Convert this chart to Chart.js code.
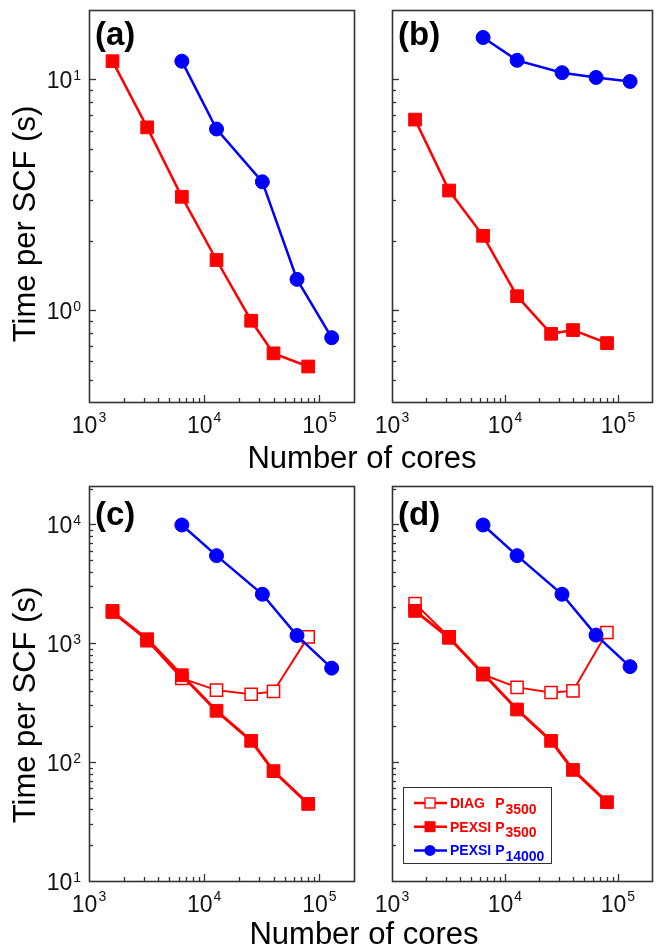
<!DOCTYPE html>
<html><head><meta charset="utf-8">
<script src="https://cdn.jsdelivr.net/npm/chart.js@4.4.1/dist/chart.umd.min.js"></script>
<style>
html,body{margin:0;padding:0;background:#fff;}
#wrap{position:relative;width:662px;height:948px;overflow:hidden;background:#fff;}
canvas{position:absolute;left:0;top:0;}
</style></head><body>
<div id="wrap">
<canvas id="ca" width="662" height="948"></canvas>
<canvas id="cb" width="662" height="948"></canvas>
<canvas id="cc" width="662" height="948"></canvas>
<canvas id="cd" width="662" height="948"></canvas>
</div>
<script>
// ---- data ----
const coresP3500 = [1600, 3200, 6400, 12800, 25600, 40000, 80000];
const coresP14000 = [6400, 12800, 32000, 64000, 128000];
const xTickExponents = [3, 4, 5];
const yTickExponentsTop = [0, 1];
const yTickExponentsBottom = [1, 2, 3, 4];

const aPexsi3500 = [12.0, 6.2, 3.1, 1.65, 0.90, 0.65, 0.57];
const aPexsi14000 = [12.0, 6.1, 3.6, 1.36, 0.76];
const bPexsi3500 = [6.7, 3.3, 2.1, 1.15, 0.79, 0.82, 0.72];
const bPexsi14000 = [15.2, 12.1, 10.7, 10.2, 9.8];
const cDiag3500 = [1870, 1050, 505, 403, 372, 393, 1130];
const cPexsi3500 = [1830, 1080, 538, 270, 151, 84, 44.5];
const cPexsi14000 = [9870, 5450, 2580, 1160, 617];
const dDiag3500 = [2150, 1130, 545, 425, 385, 397, 1230];
const dPexsi3500 = [1870, 1110, 556, 277, 151, 86, 46];
const dPexsi14000 = [9870, 5450, 2580, 1170, 635];

const legendNames = ['DIAG', 'PEXSI', 'PEXSI'];
const legendSubs = ['3500', '3500', '14000'];

const RED = '#ff0000', BLUE = '#0000ff', FRAME = '#333333';
const FONT = '"Liberation Sans", Arial, Helvetica, sans-serif';

function pts(xs, ys) { return xs.map((x, i) => ({ x: x, y: ys[i] })); }

function dsPexsi(ys, lw) {
  return { data: pts(coresP3500, ys), borderColor: RED, backgroundColor: RED,
    pointBackgroundColor: RED, pointBorderColor: RED, pointStyle: 'rect',
    pointRadius: 9, pointBorderWidth: 1, borderWidth: lw, order: 2, tension: 0, clip: false };
}
function dsDiag(ys) {
  return { data: pts(coresP3500, ys), borderColor: RED, backgroundColor: '#fff',
    pointBackgroundColor: '#ffffff', pointBorderColor: RED, pointStyle: 'rect',
    pointRadius: 8.6, pointBorderWidth: 1.5, borderWidth: 2, order: 3, tension: 0, clip: false };
}
function dsBlue(ys) {
  return { data: pts(coresP14000, ys), borderColor: BLUE, backgroundColor: BLUE,
    pointBackgroundColor: BLUE, pointBorderColor: BLUE, pointStyle: 'circle',
    pointRadius: 7, pointBorderWidth: 1, borderWidth: 2.5, order: 1, tension: 0, clip: false };
}

function logTicks(min, max) {
  const out = [];
  for (let e = Math.floor(Math.log10(min)); e <= Math.ceil(Math.log10(max)); e++) {
    for (let k = 1; k <= 9; k++) {
      const v = k * Math.pow(10, e);
      if (v > min * 1.0001 && v < max * 0.9999) out.push({ v: v, major: k === 1 });
    }
  }
  return out;
}

function drawPow(ctx, e, x, yBase, ySup, align) {
  ctx.font = '23px ' + FONT;
  const w1 = ctx.measureText('10').width;
  ctx.font = '14px ' + FONT;
  const w2 = ctx.measureText(String(e)).width;
  const total = w1 + 1 + w2;
  const start = align === 'center' ? x - total / 2 : x - total;
  ctx.textAlign = 'left';
  ctx.textBaseline = 'alphabetic';
  ctx.font = '23px ' + FONT;
  ctx.fillText('10', start, yBase);
  ctx.font = '14px ' + FONT;
  ctx.fillText(String(e), start + w1 + 1, ySup);
}

function makePlugin(p) {
  return {
    id: 'frameTicks',
    afterDraw(chart) {
      const ctx = chart.ctx, a = chart.chartArea;
      const xs = chart.scales.x, ys = chart.scales.y;
      ctx.save();
      ctx.strokeStyle = FRAME;
      ctx.lineWidth = 1.3;
      logTicks(xs.min, xs.max).forEach(t => {
        const px = Math.round(xs.getPixelForValue(t.v)) + 0.5;
        const L = t.major ? 7 : 4;
        ctx.beginPath(); ctx.moveTo(px, a.bottom); ctx.lineTo(px, a.bottom - L); ctx.stroke();
      });
      logTicks(ys.min, ys.max).forEach(t => {
        const py = Math.round(ys.getPixelForValue(t.v)) + 0.5;
        const L = t.major ? 7 : 4;
        ctx.beginPath(); ctx.moveTo(a.left, py); ctx.lineTo(a.left + L, py); ctx.stroke();
      });
      ctx.lineWidth = 1.6;
      ctx.strokeRect(Math.round(a.left) + 0.5, Math.round(a.top) + 0.5,
        Math.round(a.right - a.left), Math.round(a.bottom - a.top));

      ctx.fillStyle = '#111';
      p.xExp.forEach(e => {
        drawPow(ctx, e, xs.getPixelForValue(Math.pow(10, e)), a.bottom + 31, a.bottom + 19.5, 'center');
      });
      if (p.yExp) {
        p.yExp.forEach(e => {
          const py = ys.getPixelForValue(Math.pow(10, e));
          drawPow(ctx, e, a.left - 8, py + 9, py + 1, 'right');
        });
      }
      // panel label
      ctx.fillStyle = '#000';
      ctx.font = 'bold 33px ' + FONT;
      ctx.textAlign = 'left';
      ctx.textBaseline = 'alphabetic';
      ctx.fillText(p.label, a.left + 6, p.labelBase);

      // axis titles
      if (p.xTitle) {
        ctx.font = '31px ' + FONT;
        ctx.textAlign = 'center';
        ctx.fillStyle = '#000';
        ctx.fillText(p.xTitle.text, p.xTitle.x, p.xTitle.y);
      }
      if (p.yTitle) {
        ctx.save();
        ctx.translate(p.yTitle.x, p.yTitle.y);
        ctx.rotate(-Math.PI / 2);
        ctx.font = '31px ' + FONT;
        ctx.textAlign = 'center';
        ctx.fillStyle = '#000';
        ctx.fillText(p.yTitle.text, 0, 0);
        ctx.restore();
      }
      if (p.legend) drawLegend(ctx, p.legend);
      ctx.restore();
    }
  };
}

function drawLegend(ctx, L) {
  ctx.fillStyle = '#fff';
  ctx.fillRect(L.x, L.y, L.w, L.h);
  ctx.strokeStyle = FRAME;
  ctx.lineWidth = 1;
  ctx.strokeRect(L.x + 0.5, L.y + 0.5, L.w, L.h);
  const colors = [RED, RED, BLUE];
  const styles = ['open', 'rect', 'circle'];
  ctx.font = 'bold 14px ' + FONT;
  const pX = L.x + 47 + ctx.measureText('PEXSI ').width;
  for (let i = 0; i < 3; i++) {
    const cy = L.y + 16 + i * 23.7;
    const c = colors[i];
    ctx.strokeStyle = c; ctx.lineWidth = 2.5;
    ctx.beginPath(); ctx.moveTo(L.x + 11, cy); ctx.lineTo(L.x + 44, cy); ctx.stroke();
    const mx = L.x + 27;
    if (styles[i] === 'open') {
      ctx.fillStyle = '#fff'; ctx.fillRect(mx - 5, cy - 5, 10, 10);
      ctx.lineWidth = 1.3; ctx.strokeRect(mx - 5, cy - 5, 10, 10);
    } else if (styles[i] === 'rect') {
      ctx.fillStyle = c; ctx.fillRect(mx - 5.5, cy - 5.5, 11, 11);
    } else {
      ctx.fillStyle = c; ctx.beginPath(); ctx.arc(mx, cy, 5.5, 0, Math.PI * 2); ctx.fill();
    }
    ctx.fillStyle = c;
    ctx.font = 'bold 14px ' + FONT;
    ctx.textAlign = 'left'; ctx.textBaseline = 'alphabetic';
    ctx.fillText(legendNames[i], L.x + 47, cy + 5);
    ctx.fillText('P', pX, cy + 5);
    const wp = ctx.measureText('P').width;
    ctx.fillText(legendSubs[i], pX + wp + 1, cy + 10.5);
  }
}

function makeChart(id, datasets, yMin, yMax, area, p) {
  return new Chart(document.getElementById(id), {
    type: 'line',
    data: { datasets: datasets },
    options: {
      responsive: false, animation: false, devicePixelRatio: 1, events: [],
      layout: { padding: { left: area.l, top: area.t, right: 662 - area.r, bottom: 948 - area.b } },
      plugins: { legend: { display: false }, tooltip: { enabled: false } },
      scales: {
        x: { type: 'logarithmic', min: 1000, max: 200000, display: false },
        y: { type: 'logarithmic', min: yMin, max: yMax, display: false }
      }
    },
    plugins: [makePlugin(p)]
  });
}

const titleY = 'Time per SCF (s)';
const titleX = 'Number of cores';

makeChart('ca', [dsPexsi(aPexsi3500, 2.5), dsBlue(aPexsi14000)], 0.4, 20,
  { l: 89, t: 6, r: 354, b: 402 },
  { xExp: xTickExponents, yExp: yTickExponentsTop, label: '(a)', labelBase: 45,
    xTitle: { text: titleX, x: 362, y: 468 }, yTitle: { text: titleY, x: 35, y: 224 } });

makeChart('cb', [dsPexsi(bPexsi3500, 2.5), dsBlue(bPexsi14000)], 0.4, 20,
  { l: 392, t: 6, r: 656, b: 402 },
  { xExp: xTickExponents, yExp: null, label: '(b)', labelBase: 45 });

makeChart('cc', [dsDiag(cDiag3500), dsPexsi(cPexsi3500, 3), dsBlue(cPexsi14000)], 10, 21000,
  { l: 89, t: 486, r: 354, b: 881 },
  { xExp: xTickExponents, yExp: yTickExponentsBottom, label: '(c)', labelBase: 525,
    xTitle: { text: titleX, x: 364, y: 944 }, yTitle: { text: titleY, x: 35, y: 705 } });

makeChart('cd', [dsDiag(dDiag3500), dsPexsi(dPexsi3500, 3), dsBlue(dPexsi14000)], 10, 21000,
  { l: 392, t: 486, r: 656, b: 881 },
  { xExp: xTickExponents, yExp: null, label: '(d)', labelBase: 525,
    legend: { x: 403, y: 787, w: 148, h: 76 } });
</script>
</body></html>
